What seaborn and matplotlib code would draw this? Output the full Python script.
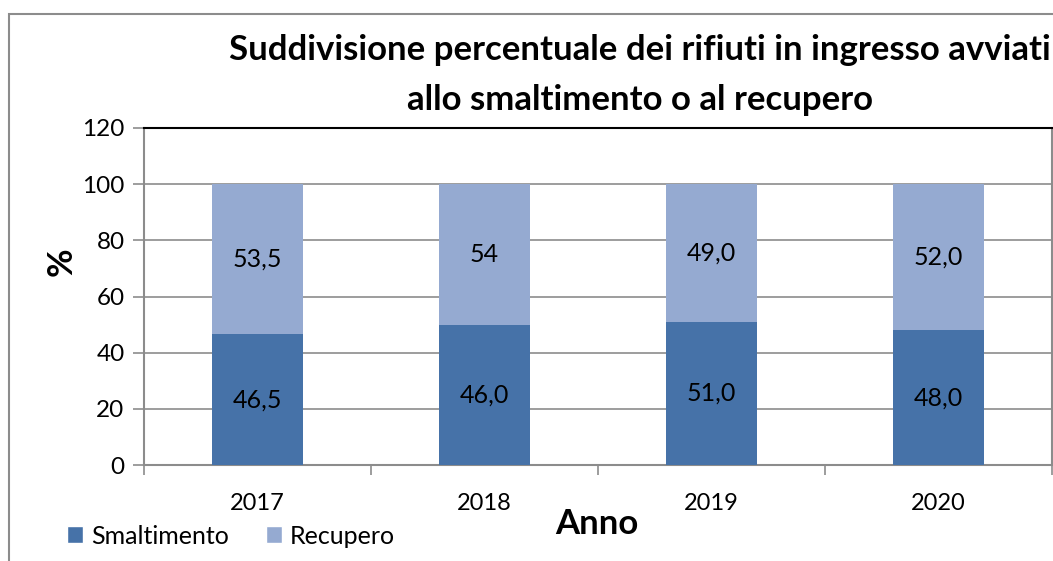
import matplotlib
matplotlib.use("Agg")
import matplotlib.pyplot as plt
import seaborn as sns
import pandas as pd
from matplotlib.patches import Patch, Rectangle

anni = ["2017", "2018", "2019", "2020"]
smaltimento = [46.5, 50.0, 51.0, 48.0]
recupero = [53.5, 50.0, 49.0, 52.0]
etichette_smalt = ["46,5", "46,0", "51,0", "48,0"]
etichette_recup = ["53,5", "54", "49,0", "52,0"]
yticks = [0, 20, 40, 60, 80, 100, 120]

c_smalt = "#4672A8"
c_recup = "#95AAD1"
grid_c = "#8C8C8C"

sns.set_theme(style="white")
plt.rcParams["font.family"] = ["Lato", "DejaVu Sans"]
plt.rcParams["text.color"] = "black"
plt.rcParams["xtick.labelcolor"] = "black"
plt.rcParams["ytick.labelcolor"] = "black"
plt.rcParams["axes.labelcolor"] = "black"

df = pd.DataFrame({"Anno": anni, "Smaltimento": smaltimento, "Recupero": recupero})
df["Totale"] = df["Smaltimento"] + df["Recupero"]

fig = plt.figure(figsize=(10.53, 5.61), dpi=100)
ax = fig.add_axes([144/1053, 1-465/561, (1052-144)/1053, (465-128)/561])

ax.set_ylim(0, 120)
ax.set_yticks(yticks)
for v in yticks[1:-1]:
    ax.axhline(v, color=grid_c, lw=1.2, zorder=0)

sns.barplot(data=df, x="Anno", y="Totale", color=c_recup, width=0.4, ax=ax,
            saturation=1, zorder=2, linewidth=0, edgecolor="none")
sns.barplot(data=df, x="Anno", y="Smaltimento", color=c_smalt, width=0.4, ax=ax,
            saturation=1, zorder=3, linewidth=0, edgecolor="none")

for i in range(len(anni)):
    ax.text(i, smaltimento[i] / 2, etichette_smalt[i], ha="center", va="center",
            fontsize=18, color="black", zorder=5)
    ax.text(i, smaltimento[i] + recupero[i] / 2, etichette_recup[i], ha="center",
            va="center", fontsize=18, color="black", zorder=5)

ax.set_xlim(-0.5, len(anni) - 0.5)
ax.set_xlabel("")
ax.set_ylabel("")
ax.tick_params(axis="y", labelsize=17.5, length=8, width=1.2, color=grid_c, pad=6,
               left=True, direction="out", labelcolor="black")
ax.tick_params(axis="x", labelsize=17, length=0, pad=20, labelcolor="black")
ax.set_xticks(range(len(anni)))
ax.set_xticklabels(anni)
ax.set_xticks([i - 0.5 for i in range(len(anni) + 1)], minor=True)
ax.tick_params(axis="x", which="minor", length=7, width=1.2, color=grid_c,
               direction="out", bottom=True)

for s in ["left", "bottom", "right"]:
    ax.spines[s].set_color(grid_c)
    ax.spines[s].set_linewidth(1.5)
    ax.spines[s].set_visible(True)
ax.spines["top"].set_color("black")
ax.spines["top"].set_linewidth(1.5)
ax.spines["top"].set_visible(True)

# outer chart border (extends past the bottom and right edges)
fig.patches.append(Rectangle((9/1053, -0.2), 1.2, 1.2 - 14/561, transform=fig.transFigure,
                             fill=False, edgecolor="#8C8C8C", lw=1.5, zorder=0))

fig.text(640/1053, 1 - 50/561, "Suddivisione percentuale dei rifiuti in ingresso avviati",
         ha="center", va="center", fontsize=25, fontweight="bold", color="black")
fig.text(640/1053, 1 - 100/561, "allo smaltimento o al recupero",
         ha="center", va="center", fontsize=25, fontweight="bold", color="black")
fig.text(62/1053, 1 - 262/561, "%", rotation=90, ha="center", va="center",
         fontsize=25, fontweight="bold", color="black")
fig.text(597/1053, 1 - 524/561, "Anno", ha="center", va="center",
         fontsize=25, fontweight="bold", color="black")

handles = [Patch(facecolor=c_smalt, label="Smaltimento"),
           Patch(facecolor=c_recup, label="Recupero")]
fig.legend(handles=handles, loc="center left", bbox_to_anchor=(67/1053, 1 - 536/561),
           ncol=2, frameon=False, fontsize=18, handlelength=0.65, handleheight=0.65,
           handletextpad=0.3, columnspacing=1.5, borderpad=0, borderaxespad=0,
           labelcolor="black")

fig.savefig("out.png", dpi=100)
